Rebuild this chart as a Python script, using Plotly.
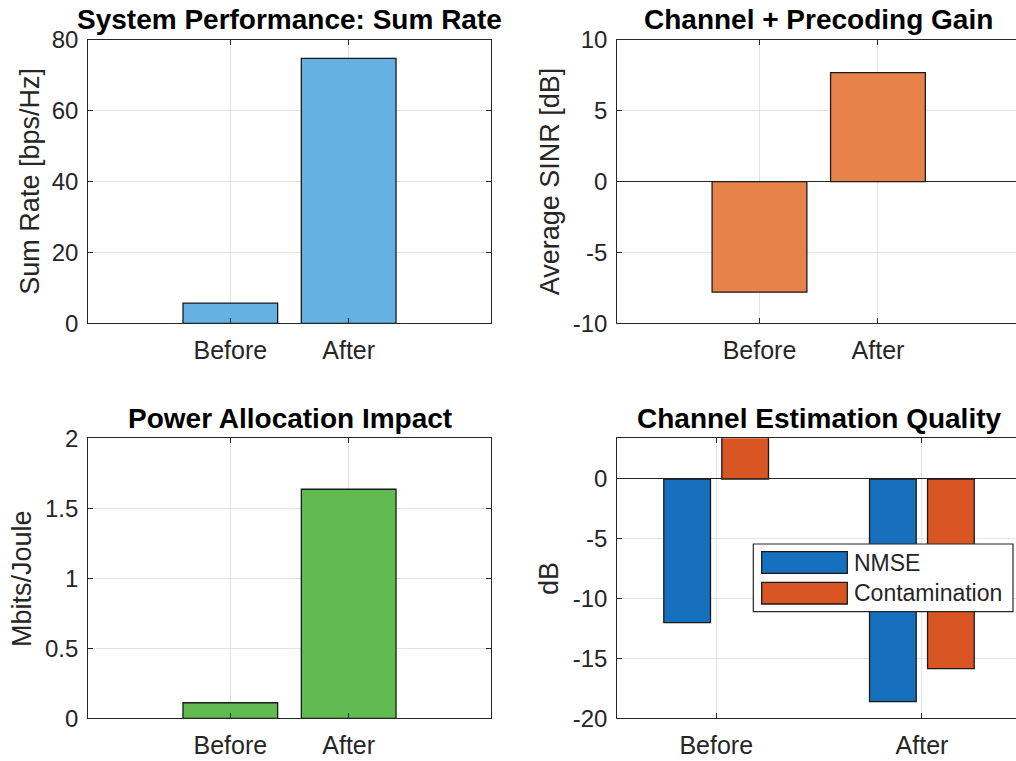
import plotly.graph_objects as go

# ---- data ----
categories = ["Before", "After"]
sum_rate = [5.7, 74.8]
avg_sinr = [-7.8, 7.7]
energy_eff = [0.111, 1.636]
nmse = [-12.0, -18.6]
contamination = [4.0, -15.85]

W, H = 1016, 761
FONT = "Liberation Sans, Arial, sans-serif"
TXT = "#262626"
GRID = "#e3e3e3"

def px(x):
    return x / W

def py(y):
    return 1 - y / H

fig = go.Figure()

xpos = [1, 2]

fig.add_trace(go.Bar(x=xpos, y=sum_rate, width=0.8, marker=dict(color="#66b1e3", line=dict(color="#1a1a1a", width=1.3)),
                     xaxis="x", yaxis="y", showlegend=False))
fig.add_trace(go.Bar(x=xpos, y=avg_sinr, width=0.8, marker=dict(color="#e8824b", line=dict(color="#1a1a1a", width=1.3)),
                     xaxis="x2", yaxis="y2", showlegend=False))
fig.add_trace(go.Bar(x=xpos, y=energy_eff, width=0.8, marker=dict(color="#62bb51", line=dict(color="#1a1a1a", width=1.3)),
                     xaxis="x3", yaxis="y3", showlegend=False))
fig.add_trace(go.Bar(x=xpos, y=nmse, width=0.227, offset=-0.255, marker=dict(color="#1770bd", line=dict(color="#1a1a1a", width=1.3)),
                     xaxis="x4", yaxis="y4", showlegend=False, name="NMSE"))
fig.add_trace(go.Bar(x=xpos, y=contamination, width=0.227, offset=0.027, marker=dict(color="#d95523", line=dict(color="#1a1a1a", width=1.3)),
                     xaxis="x4", yaxis="y4", showlegend=False, name="Contamination"))

L1, R1 = 88.3, 490.7
L2, R2 = 617.3, 1016
T1, B1 = 40, 323.3
T2, B2 = 438.3, 718.3

def xax(domain, rng, mirror):
    return dict(domain=domain, range=rng, tickvals=xpos, ticktext=categories,
                showgrid=True, gridcolor=GRID, gridwidth=1, zeroline=False,
                showline=True, linecolor=TXT, linewidth=1.2, mirror=mirror,
                ticks="inside", ticklen=5, tickcolor=TXT,
                tickfont=dict(family=FONT, size=25, color=TXT), ticklabelstandoff=5,
                fixedrange=True)

def yax(domain, rng, tickvals, ticktext, mirror, zero):
    return dict(domain=domain, range=rng, tickvals=tickvals, ticktext=ticktext,
                showgrid=True, gridcolor=GRID, gridwidth=1,
                zeroline=zero, zerolinecolor=TXT, zerolinewidth=1.2,
                showline=True, linecolor=TXT, linewidth=1.2, mirror=mirror,
                ticks="inside", ticklen=5, tickcolor=TXT,
                tickfont=dict(family=FONT, size=24, color=TXT), ticklabelstandoff=4,
                fixedrange=True)

dTLx = [px(L1), px(R1)]
dTRx = [px(L2), 1.0]
dTy = [py(B1), py(T1)]
dBy = [py(B2), py(T2)]

fig.update_layout(
    width=W, height=H,
    margin=dict(l=0, r=0, t=0, b=0, autoexpand=False),
    paper_bgcolor="white", plot_bgcolor="white",
    barmode="overlay",
    xaxis=dict(xax(dTLx, [-0.2, 3.2], "ticks"), anchor="y"),
    yaxis=dict(yax(dTy, [0, 80], [0, 20, 40, 60, 80], ["0", "20", "40", "60", "80"], "ticks", False), anchor="x"),
    xaxis2=dict(xax(dTRx, [-0.2, 3.165], "ticks"), anchor="y2"),
    yaxis2=dict(yax(dTy, [-10, 10], [-10, -5, 0, 5, 10], ["-10", "-5", "0", "5", "10"], False, True), anchor="x2"),
    xaxis3=dict(xax(dTLx, [-0.2, 3.2], "ticks"), anchor="y3"),
    yaxis3=dict(yax(dBy, [0, 2], [0, 0.5, 1, 1.5, 2], ["0", "0.5", "1", "1.5", "2"], "ticks", False), anchor="x3"),
    xaxis4=dict(xax(dTRx, [0.519, 2.457], "ticks"), anchor="y4"),
    yaxis4=dict(yax(dBy, [-20, 3.4], [-20, -15, -10, -5, 0], ["-20", "-15", "-10", "-5", "0"], False, True), anchor="x4"),
)

# titles
titles = [
    ("System Performance: Sum Rate", (L1 + R1) / 2, 19),
    ("Channel + Precoding Gain", (L2 + 1020) / 2, 19),
    ("Power Allocation Impact", (L1 + R1) / 2, 418),
    ("Channel Estimation Quality", (L2 + 1020) / 2, 418),
]
for t, cx, cy in titles:
    fig.add_annotation(text="<b>%s</b>" % t, x=px(cx), y=py(cy), xref="paper", yref="paper",
                       xanchor="center", yanchor="middle", showarrow=False,
                       font=dict(family=FONT, size=28, color="black"))

# axis titles
ylabels = [
    ("Sum Rate [bps/Hz]", 30, (T1 + B1) / 2),
    ("Average SINR [dB]", 549.7, (T1 + B1) / 2),
    ("Mbits/Joule", 22.7, (T2 + B2) / 2),
    ("dB", 549.7, (T2 + B2) / 2),
]
for t, cx, cy in ylabels:
    fig.add_annotation(text=t, x=px(cx), y=py(cy), xref="paper", yref="paper",
                       xanchor="center", yanchor="middle", showarrow=False, textangle=-90,
                       font=dict(family=FONT, size=27, color=TXT))

# legend (drawn manually to match box-style swatches)
fig.add_shape(type="rect", xref="paper", yref="paper", x0=px(753.3), x1=px(1013), y0=py(611.7), y1=py(544),
              line=dict(color=TXT, width=1.2), fillcolor="white", layer="above")
leg = [("NMSE", "#1770bd", 551.7, 573.3), ("Contamination", "#d95523", 582.3, 604)]
for name, col, y0, y1 in leg:
    fig.add_shape(type="rect", xref="paper", yref="paper", x0=px(761.7), x1=px(847.3), y0=py(y1), y1=py(y0),
                  line=dict(color="#1a1a1a", width=1.3), fillcolor=col, layer="above")
    fig.add_annotation(text=name, x=px(852), y=py((y0 + y1) / 2), xref="paper", yref="paper",
                       xanchor="left", yanchor="middle", showarrow=False,
                       font=dict(family=FONT, size=23, color=TXT))

fig.write_html("out.html", config={"displayModeBar": False},
               post_script="document.body.style.margin='0';document.body.style.overflow='hidden';")
